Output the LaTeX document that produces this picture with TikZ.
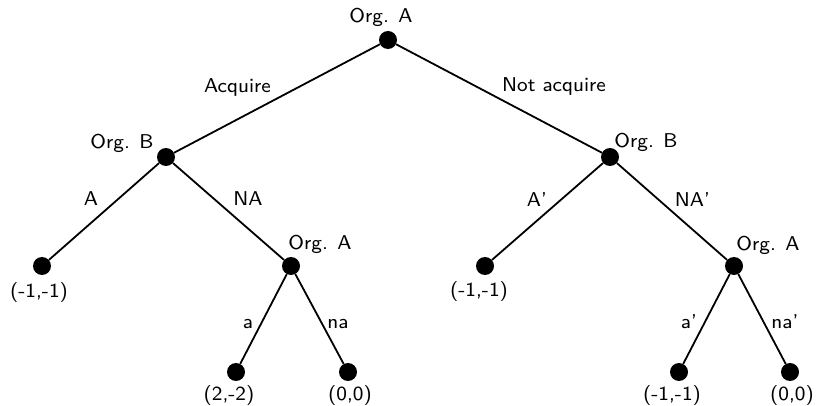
\documentclass[tikz,border=0pt]{standalone}
\newcommand{\lbtext}[1]{\scalebox{2.5}{\sffamily\fontsize{8}{10}\selectfont #1}}
\begin{document}
\begin{tikzpicture}[x=1pt,y=-1pt,
  dot/.style={circle,fill=black,inner sep=0pt,minimum size=18pt},
  lbl/.style={inner sep=0pt,anchor=base},
  edge/.style={line width=1.8pt}]
\useasboundingbox (0,0) rectangle (817,406);
\node[dot] (r) at (388,40) {};
\node[dot] (bl) at (166,157) {};
\node[dot] (br) at (610,157) {};
\node[dot] (l1) at (42,266) {};
\node[dot] (al) at (291,266) {};
\node[dot] (l2) at (236,372) {};
\node[dot] (l3) at (348,372) {};
\node[dot] (l4) at (485,266) {};
\node[dot] (ar) at (734,266) {};
\node[dot] (l5) at (679,372) {};
\node[dot] (l6) at (790,372) {};
\draw[edge] (r) -- (bl);
\draw[edge] (r) -- (br);
\draw[edge] (bl) -- (l1);
\draw[edge] (bl) -- (al);
\draw[edge] (al) -- (l2);
\draw[edge] (al) -- (l3);
\draw[edge] (br) -- (l4);
\draw[edge] (br) -- (ar);
\draw[edge] (ar) -- (l5);
\draw[edge] (ar) -- (l6);
\node[lbl] (tr) at (381,23) {\lbtext{Org. A}};
\node[lbl] (tbl) at (122,149) {\lbtext{Org. B}};
\node[lbl] (tbr) at (646,148) {\lbtext{Org. B}};
\node[lbl] (tal) at (320,250) {\lbtext{Org. A}};
\node[lbl] (tar) at (768,251) {\lbtext{Org. A}};
\node[lbl] (t1) at (39,298) {\lbtext{(-1,-1)}};
\node[lbl] (t2) at (229,400) {\lbtext{(2,-2)}};
\node[lbl] (t3) at (350,400) {\lbtext{(0,0)}};
\node[lbl] (t4) at (479,297) {\lbtext{(-1,-1)}};
\node[lbl] (t5) at (672,400) {\lbtext{(-1,-1)}};
\node[lbl] (t6) at (792,400) {\lbtext{(0,0)}};
\node[lbl] (e1) at (237.5,93) {\lbtext{Acquire}};
\node[lbl] (e2) at (554,92) {\lbtext{Not acquire}};
\node[lbl] (e3) at (91,206) {\lbtext{A}};
\node[lbl] (e4) at (248,206) {\lbtext{NA}};
\node[lbl] (e5) at (537,207) {\lbtext{A'}};
\node[lbl] (e6) at (692.5,207) {\lbtext{NA'}};
\node[lbl] (e7) at (248,328) {\lbtext{a}};
\node[lbl] (e8) at (338,328) {\lbtext{na}};
\node[lbl] (e9) at (689,328) {\lbtext{a'}};
\node[lbl] (e10) at (785,328) {\lbtext{na'}};
\end{tikzpicture}
\end{document}
